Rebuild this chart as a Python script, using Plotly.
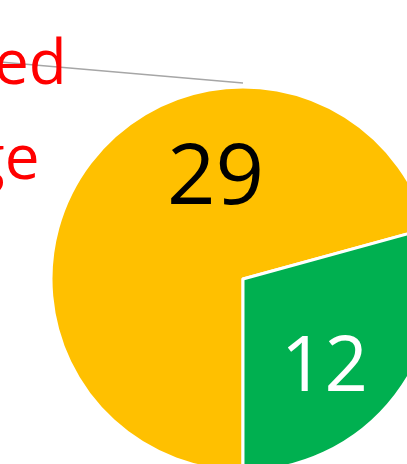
import plotly.graph_objects as go

# Data
categories = ["A", "B"]
values = [29, 12]
slice_colors = ["#FFC000", "#00B050"]
value_text_colors = ["black", "white"]
label_lines = ["ed", "ge"]  # visible (cropped) fragments of the category label

W, H = 440, 480

def px(x):
    return x / W

def py(y):
    return 1 - y / H

fig = go.Figure()
fig.add_trace(go.Pie(
    labels=categories,
    values=values,
    sort=False,
    direction="clockwise",
    rotation=180,
    marker=dict(colors=slice_colors, line=dict(color="white", width=3)),
    textinfo="none",
    hoverinfo="label+value",
    showlegend=False,
    domain=dict(x=[px(51), px(435)], y=[py(471), py(87)]),
))

# value labels
value_pos = [(215, 171), (324, 361)]
value_sizes = [85, 76]
for v, c, (x, y), s in zip(values, value_text_colors, value_pos, value_sizes):
    fig.add_annotation(x=px(x), y=py(y), xref="paper", yref="paper",
                       text=str(v), showarrow=False, xanchor="center", yanchor="middle",
                       font=dict(family="Open Sans", size=s, color=c))

# category label (cropped) in red
label_pos = [(69, 60), (41, 155)]
for t, (x, y) in zip(label_lines, label_pos):
    fig.add_annotation(x=px(x), y=py(y), xref="paper", yref="paper",
                       text=t, showarrow=False, xanchor="right", yanchor="middle",
                       font=dict(family="Open Sans", size=62, color="#FF0000"))

# leader line
fig.add_shape(type="line", xref="paper", yref="paper",
              x0=px(0), y0=py(62), x1=px(243), y1=py(83),
              line=dict(color="#A6A6A6", width=1.5))

fig.update_layout(
    width=W, height=H,
    margin=dict(l=0, r=0, t=0, b=0),
    paper_bgcolor="white",
    plot_bgcolor="white",
)

fig.write_html("out.html", config={"displayModeBar": False},
               post_script="document.body.style.margin='0';document.body.style.overflow='hidden';document.documentElement.style.overflow='hidden';")
